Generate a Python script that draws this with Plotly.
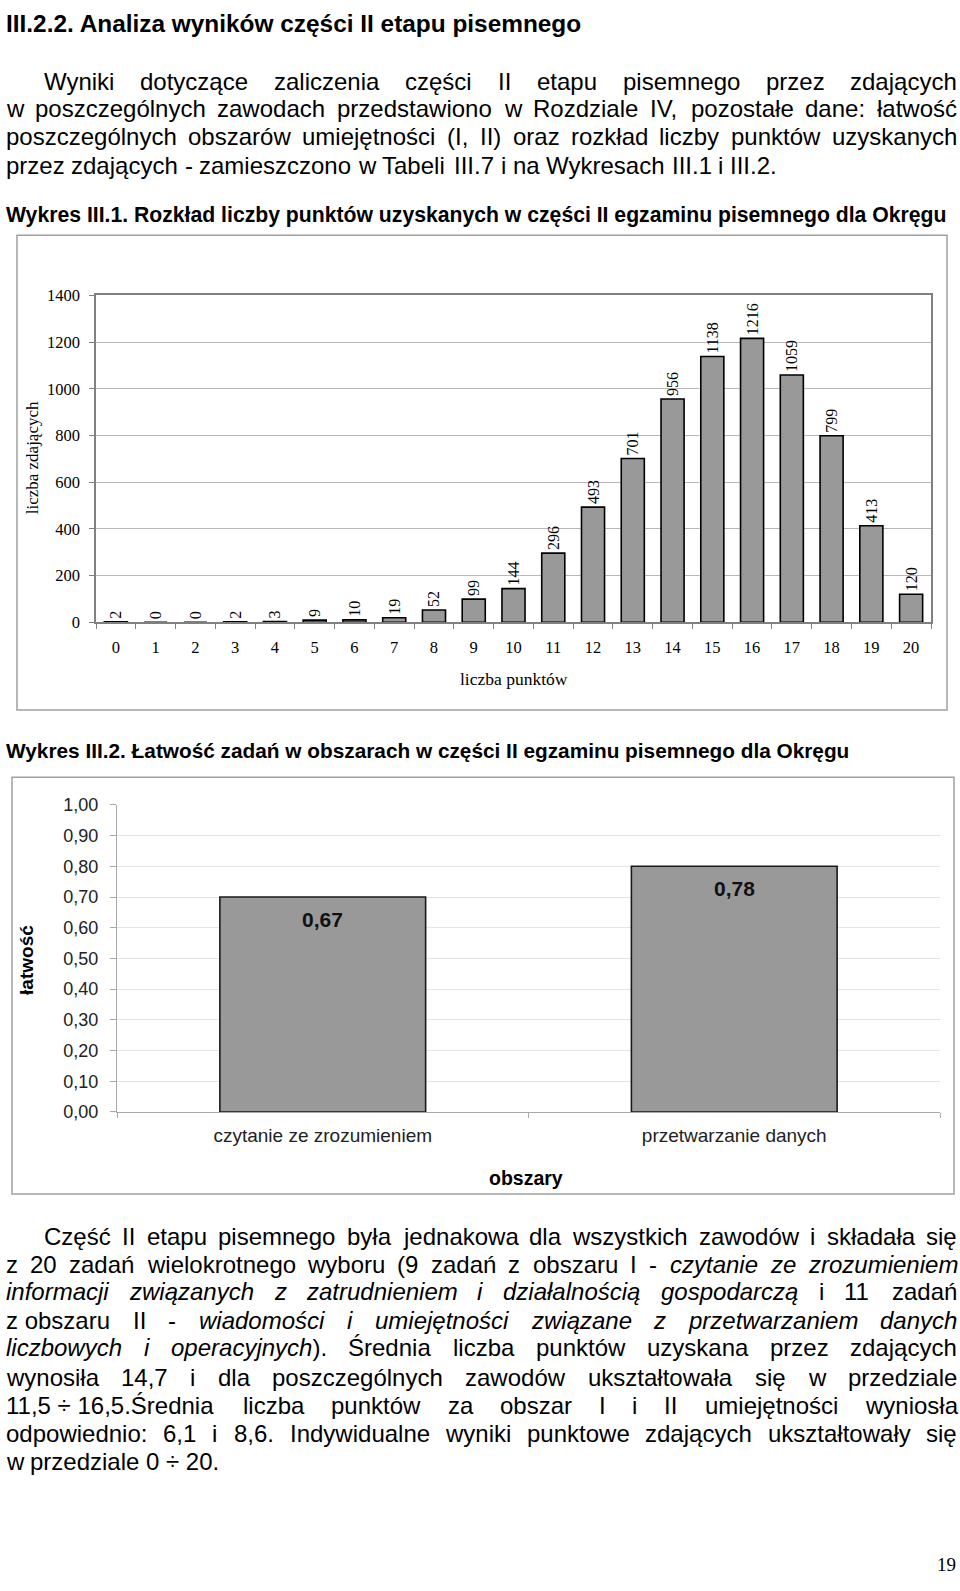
import plotly.graph_objects as go

W, H = 960, 1591

# ---------------- data ----------------
points = [str(i) for i in range(21)]
examinees = [2, 0, 0, 2, 3, 9, 10, 19, 52, 99, 144, 296, 493, 701, 956, 1138, 1216, 1059, 799, 413, 120]
count_ticks = [0, 200, 400, 600, 800, 1000, 1200, 1400]

areas = ["czytanie ze zrozumieniem", "przetwarzanie danych"]
ease_bar = [0.70, 0.80]
ease_labels = ["0,67", "0,78"]
ease_tickvals = [0.0, 0.1, 0.2, 0.3, 0.4, 0.5, 0.6, 0.7, 0.8, 0.9, 1.0]
ease_ticktext = ["0,00", "0,10", "0,20", "0,30", "0,40", "0,50", "0,60", "0,70", "0,80", "0,90", "1,00"]

# ---------------- text ----------------
heading = "III.2.2. Analiza wyników części II etapu pisemnego"
title1 = "Wykres III.1. Rozkład liczby punktów uzyskanych w części II egzaminu pisemnego dla Okręgu"
title2 = "Wykres III.2. Łatwość zadań w obszarach w części II egzaminu pisemnego dla Okręgu"

NB = "\u00a0"
para1 = [
    ("Wyniki dotyczące zaliczenia części II etapu pisemnego przez zdających", True, True),
    ("w poszczególnych zawodach przedstawiono w Rozdziale IV, pozostałe dane: łatwość", False, True),
    ("poszczególnych obszarów umiejętności (I, II) oraz rozkład liczby punktów uzyskanych", False, True),
    ("przez zdających - zamieszczono w Tabeli III.7 i na Wykresach III.1 i III.2.", False, False),
]
para2 = [
    ("Część II etapu pisemnego była jednakowa dla wszystkich zawodów i składała się", True, True),
    ("z 20 zadań wielokrotnego wyboru (9 zadań z obszaru I - <i>czytanie ze zrozumieniem</i>", False, True),
    ("<i>informacji związanych z zatrudnieniem i działalnością gospodarczą</i> i 11 zadań", False, True),
    ("z" + NB + "obszaru II - <i>wiadomości i umiejętności związane z przetwarzaniem danych</i>", False, True),
    ("<i>liczbowych i operacyjnych</i>). Średnia liczba punktów uzyskana przez zdających", False, True),
    ("wynosiła 14,7 i dla poszczególnych zawodów ukształtowała się w przedziale", False, True),
    ("11,5" + NB + "÷" + NB + "16,5.Średnia liczba punktów za obszar I i II umiejętności wyniosła", False, True),
    ("odpowiednio: 6,1 i 8,6. Indywidualne wyniki punktowe zdających ukształtowały się", False, True),
    ("w przedziale 0" + NB + "÷" + NB + "20.", False, False),
]
para1_y = [72, 100, 128, 157]
para2_y = [1242, 1270, 1298, 1327, 1355, 1385, 1413, 1442, 1470]

# Arial / Liberation Sans advance widths (1/1000 em)
AW = {' ': 278, NB: 278, '(': 333, ')': 333, ',': 278, '-': 333, '.': 278, ':': 278, '÷': 584,
      'A': 667, 'B': 667, 'C': 722, 'D': 722, 'E': 667, 'F': 611, 'G': 778, 'H': 722, 'I': 278, 'J': 500,
      'K': 667, 'L': 556, 'M': 833, 'N': 722, 'O': 778, 'P': 667, 'Q': 778, 'R': 722, 'S': 667, 'T': 611,
      'U': 722, 'V': 667, 'W': 944, 'X': 667, 'Y': 667, 'Z': 611,
      'a': 556, 'b': 556, 'c': 500, 'd': 556, 'e': 556, 'f': 278, 'g': 556, 'h': 556, 'i': 222, 'j': 222,
      'k': 500, 'l': 222, 'm': 833, 'n': 556, 'o': 556, 'p': 556, 'q': 556, 'r': 333, 's': 500, 't': 278,
      'u': 556, 'v': 500, 'w': 722, 'x': 500, 'y': 500, 'z': 500,
      'ą': 556, 'ć': 500, 'ę': 556, 'ł': 222, 'ń': 556, 'ó': 556, 'ś': 500, 'ź': 500, 'ż': 500,
      'Ś': 667, 'Ł': 556}


def px(x):
    return x / W


def py(y):
    return 1 - y / H


def tokenize(s):
    chars = []
    ital = False
    i = 0
    while i < len(s):
        if s.startswith("<i>", i):
            ital = True
            i += 3
            continue
        if s.startswith("</i>", i):
            ital = False
            i += 4
            continue
        chars.append((s[i], ital))
        i += 1
    tokens, cur = [], []
    for ch in chars:
        if ch[0] == ' ':
            if cur:
                tokens.append(cur)
            cur = []
        else:
            cur.append(ch)
    if cur:
        tokens.append(cur)
    out = []
    for t in tokens:
        units = sum(AW.get(c, 556) for c, _ in t)
        html, run, runi = "", "", None
        for c, it in t:
            if runi is None or it == runi:
                run += c
                runi = it
            else:
                html += ("<i>%s</i>" % run) if runi else run
                run, runi = c, it
        html += ("<i>%s</i>" % run) if runi else run
        out.append((html, units))
    return out


LEFT, RIGHT, INDENT = 5, 956, 43
MIN_GAP = 230
all_lines = [(l, y) for l, y in zip(para1, para1_y)] + [(l, y) for l, y in zip(para2, para2_y)]

fs = 24.0
for (txt, ind, just), _ in all_lines:
    if just:
        toks = tokenize(txt)
        avail = RIGHT - (INDENT if ind else LEFT)
        need = (sum(u for _, u in toks) + MIN_GAP * (len(toks) - 1)) / 1000.0
        fs = min(fs, avail / need)

BODY_FONT = "Liberation Sans, Arial, sans-serif"
SERIF = "Liberation Serif, Times New Roman, serif"

annotations = []
for (txt, ind, just), y in all_lines:
    toks = tokenize(txt)
    x0 = INDENT if ind else LEFT
    widths = [u * fs / 1000.0 for _, u in toks]
    if just and len(toks) > 1:
        gap = (RIGHT - x0 - sum(widths)) / (len(toks) - 1)
    else:
        gap = 0.278 * fs
    x = x0
    for (html, _), w in zip(toks, widths):
        annotations.append(dict(x=px(x), y=py(y), xref="paper", yref="paper", text=html,
                                xanchor="left", yanchor="middle", showarrow=False, borderpad=0,
                                font=dict(family=BODY_FONT, size=fs, color="#000000")))
        x += w + gap


def label(text, x, y, size, family=BODY_FONT, bold=False, angle=0, xanchor="center", color="#000000"):
    annotations.append(dict(x=px(x), y=py(y), xref="paper", yref="paper", text=text,
                            xanchor=xanchor, yanchor="middle", showarrow=False, textangle=angle,
                            borderpad=0,
                            font=dict(family=family, size=size, color=color,
                                      weight="bold" if bold else "normal")))


label(heading, 5, 14, 24.4, bold=True, xanchor="left")
label(title1, 5, 208, 21.2, bold=True, xanchor="left")
label(title2, 5, 750, 20.8, bold=True, xanchor="left")
label("liczba zdających", 32, 454, 17, family=SERIF, angle=-90)
label("liczba punktów", 514, 678, 17.5, family=SERIF)
label("łatwość", 27, 962, 19, bold=True, angle=-90)
label("obszary", 526, 1183, 19.5, bold=True)
label("19", 946, 1574, 19, family=SERIF)

# value labels for chart 2
for a, v, t in zip(areas, ease_bar, ease_labels):
    annotations.append(dict(x=a, y=v, xref="x2", yref="y2", text="<b>%s</b>" % t, xanchor="center",
                            yanchor="top", yshift=-9, showarrow=False,
                            font=dict(family=BODY_FONT, size=21, color="#111111")))

fig = go.Figure()
fig.add_trace(go.Bar(x=points, y=examinees, xaxis="x", yaxis="y", width=0.58,
                     marker=dict(color="#999999", line=dict(color="#000000", width=1.6)),
                     text=[str(v) for v in examinees], textposition="outside", textangle=-90,
                     constraintext="none", cliponaxis=False,
                     textfont=dict(family=SERIF, size=16, color="#000000"), showlegend=False))
fig.add_trace(go.Bar(x=areas, y=ease_bar, xaxis="x2", yaxis="y2", width=0.5,
                     marker=dict(color="#999999", line=dict(color="#1a1a1a", width=1.6)),
                     showlegend=False))

shapes = [
    dict(type="rect", xref="paper", yref="paper", x0=px(17), x1=px(947), y0=py(709), y1=py(228),
         line=dict(color="#a0a0a0", width=1.5)),
    dict(type="rect", xref="paper", yref="paper", x0=px(12), x1=px(954), y0=py(1199), y1=py(777),
         line=dict(color="#a0a0a0", width=1.5)),
]

fig.update_layout(
    width=W, height=H, margin=dict(l=0, r=0, t=0, b=0),
    paper_bgcolor="#ffffff", plot_bgcolor="rgba(0,0,0,0)",
    showlegend=False, annotations=annotations, shapes=shapes,
    xaxis=dict(domain=[px(96), px(931)], anchor="y", type="category", tickson="boundaries",
               ticks="outside", ticklen=5, tickcolor="#808080", showline=True, linecolor="#808080",
               linewidth=1.5, mirror=True, showgrid=False, ticklabelstandoff=9,
               tickfont=dict(family=SERIF, size=16.5, color="#000000")),
    yaxis=dict(domain=[py(620), py(289)], anchor="x", range=[0, 1400], tickvals=count_ticks,
               showgrid=True, gridcolor="#b8b8b8", gridwidth=1, ticks="outside", ticklen=5,
               tickcolor="#808080", showline=True, linecolor="#808080", linewidth=1.5, mirror=True,
               zeroline=False, ticklabelstandoff=6,
               tickfont=dict(family=SERIF, size=16.5, color="#000000")),
    xaxis2=dict(domain=[px(117), px(940)], anchor="y2", type="category", tickson="boundaries",
                ticks="outside", ticklen=5, tickcolor="#a8a8a8", showline=True, linecolor="#a8a8a8",
                linewidth=1.2, showgrid=False, ticklabelstandoff=6,
                tickfont=dict(family=BODY_FONT, size=19, color="#222222")),
    yaxis2=dict(domain=[py(1116), py(805)], anchor="x2", range=[0, 1.0], tickvals=ease_tickvals,
                ticktext=ease_ticktext, showgrid=True, gridcolor="#e4e4e4", gridwidth=1,
                ticks="outside", ticklen=6, tickcolor="#a8a8a8", showline=True, linecolor="#a8a8a8",
                linewidth=1.2, zeroline=False, ticklabelstandoff=8,
                tickfont=dict(family=BODY_FONT, size=18, color="#222222")),
)

fig.write_html("out.html", config={"displayModeBar": False},
               post_script="document.body.style.margin='0px';")
